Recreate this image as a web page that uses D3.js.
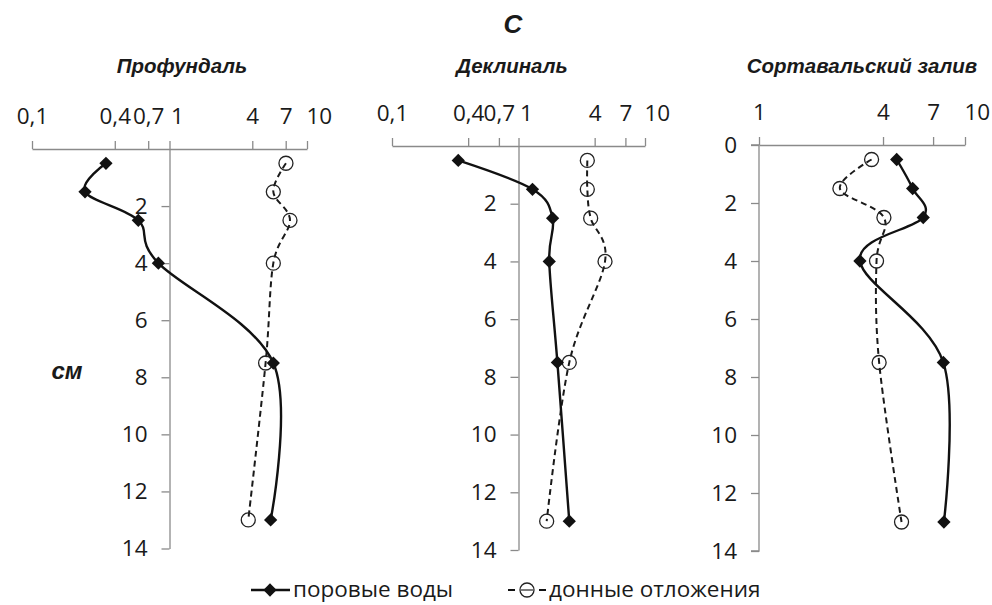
<!DOCTYPE html>
<html><head><meta charset="utf-8">
<script src="https://cdn.jsdelivr.net/npm/d3@7"></script>
<style>
html,body{margin:0;padding:0;background:#fff;}
svg{display:block;}
</style></head>
<body>
<svg id="chart" width="992" height="605"></svg>
<script>
// ---- data ----
const depths = [0.5, 1.5, 2.5, 4, 7.5, 13];
const panelTitles = ["Профундаль", "Деклиналь", "Сортавальский залив"];
const profPore = [0.345, 0.243, 0.593, 0.83, 5.69, 5.44];
const profSed  = [7.03, 5.69, 7.52, 5.69, 5.0, 3.74];
const declPore = [0.334, 1.29, 1.86, 1.75, 2.03, 2.52];
const declSed  = [3.5, 3.5, 3.72, 4.83, 2.52, 1.67];
const sortPore = [4.66, 5.57, 6.27, 3.09, 7.85, 7.9];
const sortSed  = [3.52, 2.47, 4.04, 3.72, 3.83, 4.92];
const xTicksWide = [0.1, 0.4, 0.7, 1, 4, 7, 10];
const xTickLabelsWide = ["0,1", "0,4", "0,7", "1", "4", "7", "10"];
const xTicksNarrow = [1, 4, 7, 10];
const xTickLabelsNarrow = ["1", "4", "7", "10"];
const yTicksInner = [2, 4, 6, 8, 10, 12, 14];
const yTicksOuter = [0, 2, 4, 6, 8, 10, 12, 14];
const seriesNames = ["поровые воды", "донные отложения"];
const mainTitle = "С";
const yTitle = "см";

// ---- layout ----
const svg = d3.select("#chart");
const AX = "#8a8a8a", TXT = "#1a1a1a";
const numFont = "'Open Sans', sans-serif";
const titleFont = "'Liberation Sans', Arial, sans-serif";

const panels = [
  {title: panelTitles[0], pore: profPore, sed: profSed, domain: [0.1, 10], xr: [32, 307], yr: [149, 548.5],
   ticks: xTicksWide, labels: xTickLabelsWide, yt: yTicksInner, cx: 182},
  {title: panelTitles[1], pore: declPore, sed: declSed, domain: [0.1, 10], xr: [392, 645], yr: [146, 550],
   ticks: xTicksWide, labels: xTickLabelsWide, yt: yTicksInner, cx: 512},
  {title: panelTitles[2], pore: sortPore, sed: sortSed, domain: [1, 10], xr: [759, 965], yr: [145, 551],
   ticks: xTicksNarrow, labels: xTickLabelsNarrow, yt: yTicksOuter, cx: 862}
];

svg.append("text").attr("x", 513).attr("y", 33).attr("text-anchor", "middle")
  .attr("font-family", titleFont).attr("font-weight", "bold")
  .attr("font-style", "italic").attr("font-size", 26).attr("fill", TXT).text(mainTitle);

svg.append("text").attr("x", 67).attr("y", 379).attr("text-anchor", "middle")
  .attr("font-family", titleFont).attr("font-weight", "bold")
  .attr("font-style", "italic").attr("font-size", 24).attr("fill", TXT).text(yTitle);

const diamond = d3.symbol().type(d3.symbolSquare).size(88);

panels.forEach(p => {
  const x = d3.scaleLog().domain(p.domain).range(p.xr);
  const y = d3.scaleLinear().domain([0, 14]).range(p.yr);
  const g = svg.append("g");

  g.append("text").attr("x", p.cx).attr("y", 73).attr("text-anchor", "middle")
    .attr("font-family", titleFont).attr("font-weight", "bold")
    .attr("font-style", "italic").attr("font-size", 20.5).attr("fill", TXT).text(p.title);

  // x axis (top)
  const xa = g.append("g").attr("transform", `translate(0,${p.yr[0]})`)
    .call(d3.axisTop(x).tickValues(p.ticks).tickSize(8).tickSizeOuter(0).tickPadding(17)
      .tickFormat((d, i) => p.labels[i]));
  xa.select(".domain").attr("stroke", AX).attr("stroke-width", 1.3);
  xa.selectAll(".tick line").attr("stroke", AX).attr("stroke-width", 1.3);
  xa.selectAll(".tick text").attr("font-family", numFont).attr("font-size", 22.5).attr("fill", TXT)
    .each(function(d) {
      const t = d3.select(this);
      if (d === 10) t.attr("text-anchor", "start").attr("dx", -1);
      else if (d === 1 && p.domain[0] < 1) t.attr("text-anchor", "start").attr("dx", 1);
    });

  // y axis at x = 1
  const ya = g.append("g").attr("transform", `translate(${x(1)},0)`)
    .call(d3.axisLeft(y).tickValues(p.yt).tickSize(8).tickSizeOuter(0).tickPadding(14));
  ya.select(".domain").attr("stroke", AX).attr("stroke-width", 1.3);
  ya.selectAll(".tick line").attr("stroke", AX).attr("stroke-width", 1.3);
  ya.selectAll(".tick text").attr("font-family", numFont).attr("font-size", 22.5).attr("fill", TXT);
  if (p.yt[0] === 0) {
    ya.select(".domain").attr("d", `M-8,${y(0)}H0V${y(14)}H-8`);
  }

  const line = d3.line().curve(d3.curveCardinal.tension(0))
    .x(d => x(d[0])).y(d => y(d[1]));

  const sedPts = p.sed.map((v, i) => [v, depths[i]]);
  const porePts = p.pore.map((v, i) => [v, depths[i]]);

  g.append("path").attr("d", line(sedPts)).attr("fill", "none").attr("stroke", "#1a1a1a")
    .attr("stroke-width", 2).attr("stroke-dasharray", "6,4");
  g.append("path").attr("d", line(porePts)).attr("fill", "none").attr("stroke", "#111")
    .attr("stroke-width", 2.4);

  g.selectAll("circle.sed").data(sedPts).join("circle").attr("class", "sed")
    .attr("cx", d => x(d[0])).attr("cy", d => y(d[1])).attr("r", 7)
    .attr("fill", "none").attr("stroke", "#222").attr("stroke-width", 1.3);
  g.selectAll("path.pore").data(porePts).join("path").attr("class", "pore")
    .attr("d", diamond)
    .attr("transform", d => `translate(${x(d[0])},${y(d[1])}) rotate(45)`)
    .attr("fill", "#111");
});

// ---- legend ----
const lg = svg.append("g");
const ly = 590;
lg.append("line").attr("x1", 251).attr("x2", 290).attr("y1", ly).attr("y2", ly)
  .attr("stroke", "#111").attr("stroke-width", 2.4);
lg.append("path").attr("d", diamond).attr("transform", `translate(270,${ly}) rotate(45)`).attr("fill", "#111");
lg.append("text").attr("x", 293).attr("y", ly + 7).attr("font-family", numFont).attr("font-size", 22.5)
  .attr("fill", TXT).text(seriesNames[0]);
lg.append("line").attr("x1", 508).attr("x2", 546).attr("y1", ly).attr("y2", ly)
  .attr("stroke", "#111").attr("stroke-width", 2).attr("stroke-dasharray", "7,24");
lg.append("circle").attr("cx", 527).attr("cy", ly).attr("r", 7).attr("fill", "none")
  .attr("stroke", "#222").attr("stroke-width", 1.3);
lg.append("line").attr("x1", 521).attr("x2", 533).attr("y1", ly).attr("y2", ly)
  .attr("stroke", "#222").attr("stroke-width", 1.2);
lg.append("text").attr("x", 549).attr("y", ly + 7).attr("font-family", numFont).attr("font-size", 22.5)
  .attr("fill", TXT).text(seriesNames[1]);
</script>
</body></html>
